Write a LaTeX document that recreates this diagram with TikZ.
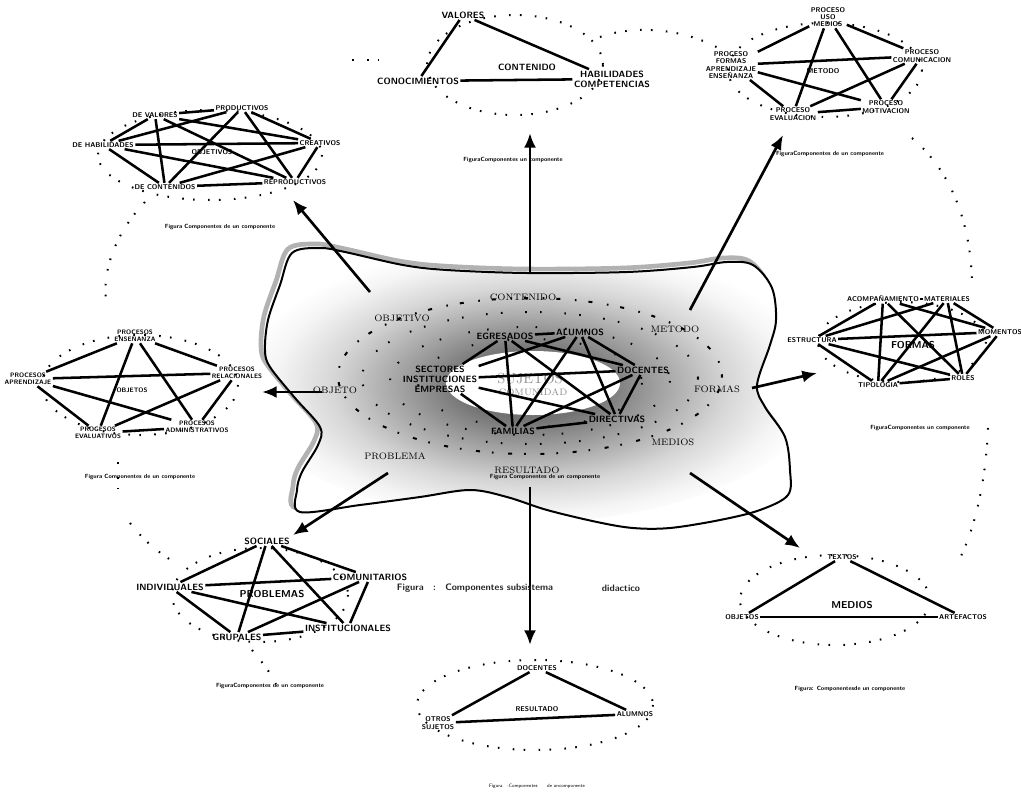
\documentclass[tikz,border=0pt]{standalone}
\usepackage{fontspec}
\usepackage{tikz}
\usetikzlibrary{arrows.meta}
\pgfdeclareradialshading{blobglow}{\pgfpoint{0bp}{0bp}}{color(0bp)=(black!58); color(6bp)=(black!55); color(11bp)=(black!37); color(17bp)=(black!16); color(22bp)=(black!4); color(25bp)=(white); color(50bp)=(white)}

\begin{document}
\begin{tikzpicture}[x=0.75pt, y=-0.75pt, >={Latex[length=11pt,width=9pt]},
    bigl/.style={font={\sffamily\bfseries\fontsize{6.8}{7.4}\selectfont}, align=center, inner sep=1pt},
    midl/.style={font={\sffamily\bfseries\fontsize{5.2}{5.4}\selectfont}, align=center, inner sep=1pt},
    smll/.style={font={\sffamily\bfseries\fontsize{4.8}{5}\selectfont}, align=center, inner sep=1pt},
    hub/.style={font={\sffamily\bfseries\fontsize{7.5}{8}\selectfont}, inner sep=1pt},
    serl/.style={font={\rmfamily\fontsize{7}{8}\selectfont}, inner sep=1pt},
    figcap/.style={font={\sffamily\bfseries\fontsize{4.5}{5}\selectfont}, inner sep=0pt},
    link/.style={line width=1.9pt},
    spot/.style={line width=1.5pt, dash pattern=on 1.2pt off 10pt on 1.2pt off 7pt},
    bigarrow/.style={->, line width=2pt}]
    \fill[white] (0,0) rectangle (1021,793);
    \useasboundingbox (0,0) rectangle (1021,793);

    % central blob
    \path[save path=\blobsave] plot[smooth cycle, tension=0.55] coordinates {(292,253) (320,248) (345,252) (403,265) (447,270) (527,273) (627,272) (693,267) (727,262) (753,265) (772,288) (776,320) (770,345) (757,385) (765,407) (785,437) (790,470) (788,495) (760,510) (720,520) (670,528) (633,528) (597,522) (547,510) (507,497) (470,490) (420,497) (360,505) (300,512) (297,490) (302,472) (318,445) (320,427) (295,398) (270,367) (265,350) (268,320) (280,285)};
    \begin{scope}[transform canvas={shift={(-3pt,3pt)}}]
        \draw[gray!60, line width=3.5pt, use path=\blobsave];
    \end{scope}
    \draw[line width=1.5pt, fill=white, path picture={\shade[shading=blobglow] (530,382) ellipse [x radius=290, y radius=140];}] plot[smooth cycle, tension=0.55] coordinates {(292,253) (320,248) (345,252) (403,265) (447,270) (527,273) (627,272) (693,267) (727,262) (753,265) (772,288) (776,320) (770,345) (757,385) (765,407) (785,437) (790,470) (788,495) (760,510) (720,520) (670,528) (633,528) (597,522) (547,510) (507,497) (470,490) (420,497) (360,505) (300,512) (297,490) (302,472) (318,445) (320,427) (295,398) (270,367) (265,350) (268,320) (280,285)};
    \fill[white] (533,383) ellipse [x radius=87, y radius=32];
    \draw[spot, dash pattern=on 1.2pt off 9pt on 3pt off 11pt] (530,376) ellipse [x radius=192, y radius=78];
    \draw[spot, dash pattern=on 1.2pt off 17pt on 1.2pt off 10pt] (530,378) ellipse [x radius=168, y radius=66];
    \draw[spot, dash pattern=on 1.2pt off 21pt on 1.2pt off 13pt] (530,381) ellipse [x radius=140, y radius=54];
    \draw[spot, dash pattern=on 1.2pt off 26pt] (530,383) ellipse [x radius=112, y radius=44];

    \node[font={\rmfamily\fontsize{11}{12}\selectfont}, text=black!45] (suj) at (530,378) {SUJETOS};
    \node[font={\rmfamily\fontsize{7}{8}\selectfont}, text=black!45] (comun) at (533,392) {COMUNIDAD};

    % outer dotted chain and rings
    \draw[spot] (600,37) .. controls (630,26) and (680,26) .. (722,50);
    \draw[spot] (352,60) -- (392,60);
    \draw[spot] (145,202) .. controls (120,228) and (102,265) .. (106,300);
    \draw[spot] (118,462) -- (118,492);
    \draw[spot] (130,523) .. controls (145,542) and (158,552) .. (174,562);
    \draw[spot] (252,650) .. controls (262,662) and (270,672) .. (276,684);
    \draw[spot] (912,138) .. controls (950,170) and (970,220) .. (972,280);
    \draw[spot] (988,428) .. controls (986,480) and (975,530) .. (958,562);
    \foreach \cx/\cy/\rx/\ry in {515/65/88/50, 210/155/112/45, 825/70/97/47, 140/385/98/50, 902/342/84/40, 260/595/88/47, 535/705/118/45, 835/600/95/45}
        \draw[spot] (\cx,\cy) ellipse [x radius=\rx, y radius=\ry];

    % center network
    \node[bigl] (egres) at (505,336) {EGRESADOS};
    \node[bigl] (alum) at (580,332) {ALUMNOS};
    \node[bigl] (doce) at (643,370) {DOCENTES};
    \node[bigl] (sect) at (440,379) {SECTORES\\INSTITUCIONES\\EMPRESAS};
    \node[bigl] (direc) at (617,419) {DIRECTIVAS};
    \node[bigl] (fam) at (513,431) {FAMILIAS};
    \foreach \a/\b in {egres/alum, egres/doce, egres/direc, egres/fam, egres/sect, alum/doce, alum/sect, alum/direc, alum/fam, doce/sect, doce/direc, doce/fam, sect/direc, sect/fam, direc/fam}
        \draw[link] (\a) -- (\b);
    \node[serl] (cCont) at (523,297) {CONTENIDO};
    \node[serl] (cObjv) at (402,318) {OBJETIVO};
    \node[serl] (cMet) at (675,329) {METODO};
    \node[serl] (cObj) at (335,390) {OBJETO};
    \node[serl] (cFor) at (717,389) {FORMAS};
    \node[serl] (cMed) at (673,442) {MEDIOS};
    \node[serl] (cProb) at (395,456) {PROBLEMA};
    \node[serl] (cRes) at (527,470) {RESULTADO};
    \node[figcap] (capC) at (545,477) {Figura Componentes de un componente};

    % arrows out of the blob
    \coordinate (aN) at (530,273);   \coordinate (tN) at (530,133);
    \coordinate (aNW) at (370,292);  \coordinate (tNW) at (293,200);
    \coordinate (aNE) at (690,310);  \coordinate (tNE) at (783,135);
    \coordinate (aW) at (322,392);   \coordinate (tW) at (262,392);
    \coordinate (aE) at (752,388);   \coordinate (tE) at (817,373);
    \coordinate (aSW) at (388,473);  \coordinate (tSW) at (293,535);
    \coordinate (aS) at (530,487);   \coordinate (tS) at (530,645);
    \coordinate (aSE) at (690,473);  \coordinate (tSE) at (800,548);
    \foreach \s/\t in {aN/tN, aNW/tNW, aNE/tNE, aW/tW, aE/tE, aSW/tSW, aS/tS, aSE/tSE}
        \draw[bigarrow] (\s) -- (\t);

    % top: contenido
    \node[bigl] (valores) at (463,15) {VALORES};
    \node[bigl] (conoc) at (418,81) {CONOCIMIENTOS};
    \node[bigl] (habil) at (612,79) {HABILIDADES\\COMPETENCIAS};
    \node[bigl] (contT) at (527,67) {CONTENIDO};
    \foreach \a/\b in {valores/conoc, valores/habil, conoc/habil}
        \draw[link] (\a) -- (\b);
    \node[figcap] (capTC) at (513,160) {FiguraComponentes un componente};

    % top left: objetivos
    \node[midl] (dval) at (155,115) {DE VALORES};
    \node[midl] (prod) at (242,108) {PRODUCTIVOS};
    \node[midl] (dhab) at (103,145) {DE HABILIDADES};
    \node[midl] (creat) at (320,143) {CREATIVOS};
    \node[midl] (objv) at (212,152) {OBJETIVOS};
    \node[midl] (dcont) at (165,187) {DE CONTENIDOS};
    \node[midl] (reprod) at (295,182) {REPRODUCTIVOS};
    \foreach \a/\b in {dval/prod, dval/dhab, dval/dcont, dval/creat, dval/reprod, prod/dhab, prod/dcont, prod/creat, prod/reprod, dhab/creat, dhab/reprod, dhab/dcont, dcont/reprod, dcont/creat, creat/reprod}
        \draw[link] (\a) -- (\b);
    \node[figcap] (capTL) at (220,227) {Figura Componentes de un componente};

    % top right: metodo
    \node[midl] (pmed) at (828,17) {PROCESO\\USO\\MEDIOS};
    \node[midl] (pcom) at (922,56) {PROCESO\\COMUNICACION};
    \node[midl] (pfor) at (731,65) {PROCESO\\FORMAS\\APRENDIZAJE\\ENSEÑANZA};
    \node[midl] (metT) at (823,71) {METODO};
    \node[midl] (peval) at (793,114) {PROCESO\\EVALUACION};
    \node[midl] (pmot) at (886,107) {PROCESO\\MOTIVACION};
    \foreach \a/\b in {pmed/pfor, pmed/pcom, pmed/peval, pmed/pmot, pfor/pcom, pfor/peval, pfor/pmot, pcom/peval, pcom/pmot, peval/pmot}
        \draw[link] (\a) -- (\b);
    \node[figcap] (capTR) at (830,154) {FiguraComponentes de un componente};

    % left: objetos
    \node[smll] (pens) at (135,336) {PROCESOS\\ENSEÑANZA};
    \node[smll] (papr) at (28,379) {PROCESOS\\APRENDIZAJE};
    \node[smll] (prel) at (237,373) {PROCESOS\\RELACIONALES};
    \node[smll] (objs) at (132,390) {OBJETOS};
    \node[smll] (pevl) at (98,433) {PROGESOS\\EVALUATIVOS};
    \node[smll] (padm) at (197,427) {PROCESOS\\ADMINISTRATIVOS};
    \foreach \a/\b in {pens/papr, pens/prel, pens/pevl, pens/padm, papr/prel, papr/pevl, papr/padm, prel/pevl, prel/padm, pevl/padm}
        \draw[link] (\a) -- (\b);
    \node[figcap] (capL) at (140,477) {Figura Componentes de un componente};

    % right: formas
    \node[midl] (acomp) at (883,299) {ACOMPAÑAMIENTO};
    \node[midl] (mater) at (947,299) {MATERIALES};
    \node[midl] (estr) at (812,340) {ESTRUCTURA};
    \node[midl] (mom) at (1000,332) {MOMENTOS};
    \node[hub] (formT) at (913,345) {FORMAS};
    \node[midl] (tipo) at (878,385) {TIPOLOGIA};
    \node[midl] (roles) at (963,378) {ROLES};
    \foreach \a/\b in {acomp/mater, acomp/estr, acomp/mom, acomp/tipo, acomp/roles, mater/estr, mater/mom, mater/tipo, mater/roles, estr/mom, estr/tipo, estr/roles, mom/tipo, mom/roles, tipo/roles}
        \draw[link] (\a) -- (\b);
    \node[figcap] (capR) at (920,428) {FiguraComponentes un componente};

    % bottom left: problemas
    \node[bigl] (soc) at (267,541) {SOCIALES};
    \node[bigl] (indiv) at (170,587) {INDIVIDUALES};
    \node[bigl] (comu) at (370,577) {COMUNITARIOS};
    \node[hub] (probl) at (272,594) {PROBLEMAS};
    \node[bigl] (grup) at (237,637) {GRUPALES};
    \node[bigl] (inst) at (348,628) {INSTITUCIONALES};
    \foreach \a/\b in {soc/indiv, soc/comu, soc/grup, soc/inst, indiv/comu, indiv/grup, indiv/inst, comu/grup, comu/inst, grup/inst}
        \draw[link] (\a) -- (\b);
    \node[figcap] (capBL) at (270,686) {FiguraComponentes de un componente};

    % bottom: resultado
    \node[midl] (bdoc) at (537,668) {DOCENTES};
    \node[midl] (otros) at (438,723) {OTROS\\SUJETOS};
    \node[midl] (balum) at (635,714) {ALUMNOS};
    \node[midl] (resul) at (537,709) {RESULTADO};
    \foreach \a/\b in {bdoc/otros, bdoc/balum, otros/balum}
        \draw[link] (\a) -- (\b);
    \node[font={\sffamily\fontsize{3.6}{4}\selectfont}] (capB) at (537,786) {Figura\quad :Componentes\qquad de uncomponente};

    % bottom right: medios
    \node[midl] (textos) at (842,557) {TEXTOS};
    \node[midl] (bobj) at (742,617) {OBJETOS};
    \node[midl] (artef) at (963,617) {ARTEFACTOS};
    \node[hub] (mediosT) at (852,605) {MEDIOS};
    \foreach \a/\b in {textos/bobj, textos/artef, bobj/artef}
        \draw[link] (\a) -- (\b);
    \node[figcap] (capBR) at (850,689) {Figura: Componentesde un componente};

    % main caption
    \node[font={\sffamily\bfseries\fontsize{7}{8}\selectfont}, text=black!85] (capMain) at (475,588) {Figura\quad :\quad Componentes subsistema};
    \node[font={\sffamily\bfseries\fontsize{7}{8}\selectfont}, text=black!85] (capDid) at (621,588) {didactico};
\end{tikzpicture}
\end{document}
